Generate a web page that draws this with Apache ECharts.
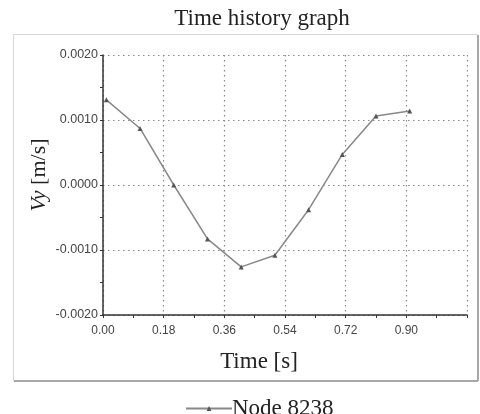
<!DOCTYPE html>
<html>
<head>
    <meta charset="UTF-8">
    <title>Time history graph</title>
    <script src="https://cdn.jsdelivr.net/npm/echarts@6/dist/echarts.min.js"></script>
    <style>
        html, body { margin: 0; padding: 0; background: #fff; }
        #chart { width: 480px; height: 414px; }
    </style>
</head>
<body>
    <div id="chart"></div>
    <script>
        // values
        var times = [0.01, 0.11, 0.21, 0.31, 0.41, 0.51, 0.61, 0.71, 0.81, 0.91];
        var vy = [0.00131, 0.00087, 0.00000, -0.00083, -0.00126, -0.00108, -0.00038, 0.00047, 0.00106, 0.00114];
        var seriesName = 'Node 8238';

        var points = times.map(function (t, i) { return [t, vy[i]]; });

        var chart = echarts.init(document.getElementById('chart'));
        var serif = '"Liberation Serif", "DejaVu Serif", serif';
        var sans = '"Liberation Sans", Arial, sans-serif';
        var dotted = { color: '#8a8a8a', type: [1.5, 3.5], width: 1.2 };

        var option = {
            animation: false,
            title: {
                text: 'Time history graph',
                left: 257,
                textAlign: 'center',
                top: 2,
                textStyle: { fontFamily: serif, fontSize: 23, fontWeight: 'normal', color: '#222' }
            },
            legend: {
                data: [seriesName],
                left: 180,
                top: 392,
                itemWidth: 46,
                itemHeight: 6,
                itemGap: 0,
                textStyle: { fontFamily: serif, fontSize: 23, color: '#222', padding: [0, 0, 0, -5] }
            },
            graphic: [
                {
                    type: 'rect',
                    shape: { x: 13.5, y: 34.5, width: 464, height: 346 },
                    style: { fill: 'none', stroke: '#d8d8d8', lineWidth: 1 },
                    z: -1
                },
                {
                    type: 'line',
                    shape: { x1: 14, y1: 381, x2: 478, y2: 381 },
                    style: { stroke: '#a8a8a8', lineWidth: 2 }
                },
                {
                    type: 'line',
                    shape: { x1: 478, y1: 35, x2: 478, y2: 381 },
                    style: { stroke: '#a8a8a8', lineWidth: 2 }
                },
                {
                    type: 'text',
                    x: 39,
                    y: 175,
                    rotation: Math.PI / 2,
                    style: {
                        text: '{i|Vy} [m/s]',
                        align: 'center',
                        verticalAlign: 'middle',
                        fontFamily: serif,
                        fontSize: 22,
                        fill: '#222',
                        rich: {
                            i: { fontStyle: 'italic', fontFamily: serif, fontSize: 22, fill: '#222' }
                        }
                    }
                },
                {
                    type: 'text',
                    x: 259,
                    y: 362,
                    style: {
                        text: 'Time [s]',
                        align: 'center',
                        verticalAlign: 'middle',
                        fontFamily: serif,
                        fontSize: 23,
                        fill: '#222'
                    }
                }
            ],
            grid: { left: 103, right: 13, top: 55, bottom: 99 },
            xAxis: {
                type: 'value',
                min: 0,
                max: 1.08,
                interval: 0.18,
                axisLine: { show: true, onZero: false, lineStyle: { color: '#333', width: 1.5 } },
                axisTick: { show: true, length: 3, lineStyle: { color: '#333' } },
                minorTick: { show: true, splitNumber: 2, length: 3, lineStyle: { color: '#333' } },
                axisLabel: {
                    color: '#444', fontFamily: sans, fontSize: 12, margin: 10,
                    formatter: function (v) { return v >= 1.07 ? '' : v.toFixed(2); }
                },
                splitLine: { show: true, lineStyle: dotted }
            },
            yAxis: {
                type: 'value',
                min: -0.002,
                max: 0.002,
                interval: 0.001,
                axisLine: { show: true, onZero: false, lineStyle: { color: '#333', width: 1.5 } },
                axisTick: { show: true, length: 3, lineStyle: { color: '#333' } },
                minorTick: { show: true, splitNumber: 2, length: 3, lineStyle: { color: '#333' } },
                axisLabel: {
                    color: '#444', fontFamily: sans, fontSize: 12.5, margin: 5,
                    formatter: function (v) { return v.toFixed(4); }
                },
                splitLine: { show: true, lineStyle: dotted }
            },
            series: [{
                name: seriesName,
                type: 'line',
                data: points,
                symbol: 'triangle',
                symbolSize: 5,
                showAllSymbol: true,
                lineStyle: { color: '#888', width: 1.5 },
                itemStyle: { color: '#555' }
            }]
        };
        chart.setOption(option);
    </script>
</body>
</html>
